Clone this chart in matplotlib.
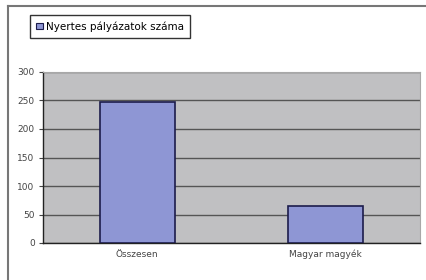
import matplotlib.pyplot as plt
from matplotlib.lines import Line2D
from matplotlib.patches import Patch

categories = ["Összesen", "Magyar magyék"]
values = [248, 65]
series_name = "Nyertes pályázatok száma"
yticks = [0, 50, 100, 150, 200, 250, 300]

fig = plt.figure(figsize=(4.26, 2.80), dpi=100)
fig.patch.set_facecolor("white")

ax = fig.add_axes([43 / 426, 37 / 280, 377 / 426, 171 / 280])
ax.set_facecolor("#c0c0c2")
ax.bar(range(len(categories)), values, width=0.4, color="#8e96d4",
       edgecolor="#1c1c4c", linewidth=1.2, zorder=3)

ax.set_xlim(-0.5, len(categories) - 0.5)
ax.set_ylim(0, 300)
ax.set_yticks(yticks)
ax.set_xticks(range(len(categories)))
ax.set_xticklabels(categories, fontsize=6.5, color="#444444")
ax.tick_params(axis="y", labelsize=6.5, length=3, width=0.8, colors="#444444", pad=3)
ax.tick_params(axis="x", length=0, pad=5)
ax.yaxis.grid(True, color="#555555", linewidth=1.0, zorder=1)
ax.set_axisbelow(True)

for side in ["top", "right"]:
    ax.spines[side].set_color("#a8a8a8")
    ax.spines[side].set_linewidth(0.8)
ax.spines["left"].set_color("#222222")
ax.spines["bottom"].set_color("#222222")
ax.spines["left"].set_linewidth(1.0)
ax.spines["bottom"].set_linewidth(1.0)

# outer frame lines (left and top only, as in the scan)
fig.add_artist(Line2D([7.5 / 426, 7.5 / 426], [0, 1 - 6 / 280], color="#777777", lw=1.5))
fig.add_artist(Line2D([7.5 / 426, 1], [1 - 6 / 280, 1 - 6 / 280], color="#777777", lw=1.5))

handle = Patch(facecolor="#8e96d4", edgecolor="#1c1c4c", linewidth=0.8)
fig.legend([handle], [series_name], loc="upper left",
           bbox_to_anchor=(30 / 426, 1 - 15 / 280), borderaxespad=0,
           fancybox=False, edgecolor="#333333", fontsize=7.5,
           handlelength=0.6, handleheight=0.6, handletextpad=0.3,
           borderpad=0.6, framealpha=1)

fig.savefig("out.png", dpi=100)
